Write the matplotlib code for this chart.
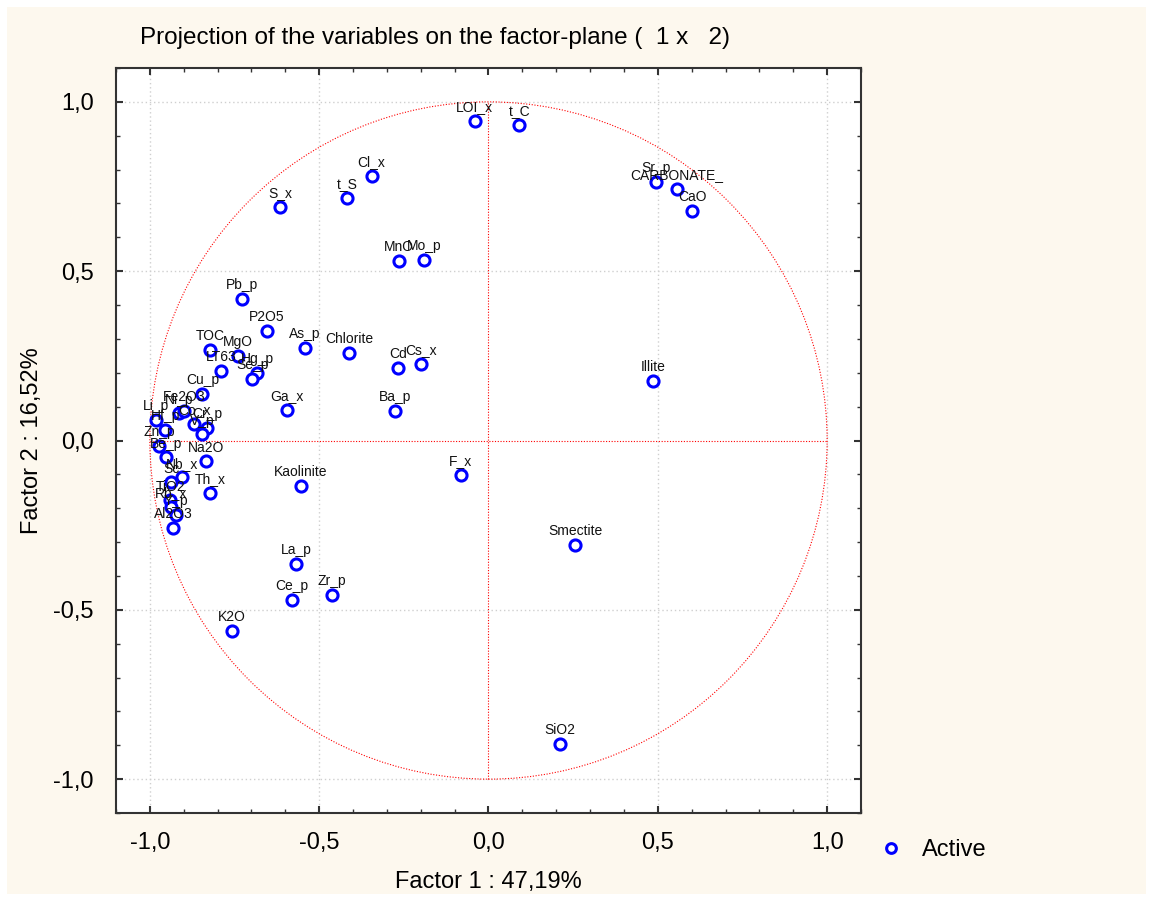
import numpy as np
import matplotlib
matplotlib.use("Agg")
import matplotlib.pyplot as plt
from matplotlib.patches import Rectangle, Circle
from matplotlib.lines import Line2D
from matplotlib.ticker import MultipleLocator, FuncFormatter

# variable loadings on factor 1 and factor 2
names = ["LOI_x", "t_C", "Sr_p", "CARBONATE_", "CaO", "Cl_x", "t_S", "S_x",
         "MnO", "Mo_p", "Pb_p", "P2O5", "As_p", "Chlorite", "Cd", "Cs_x",
         "Illite", "Ba_p", "Ga_x", "F_x", "Kaolinite", "Smectite", "La_p",
         "Zr_p", "Ce_p", "K2O", "SiO2", "TOC", "MgO", "LT63", "Hg_p", "Se_p",
         "Cu_p", "Li_p", "Hf_p", "Zn_p", "Be_p", "Ni_p", "Fe2O3", "Co_x",
         "Cr_p", "V_p", "Na2O", "Nb_x", "Sc", "Th_x", "TiO2", "Rb_x", "Y_p",
         "Al2O3"]
f1 = [-0.041, 0.091, 0.495, 0.557, 0.601, -0.345, -0.418, -0.616,
      -0.265, -0.189, -0.728, -0.654, -0.542, -0.412, -0.268, -0.200,
      0.486, -0.277, -0.595, -0.082, -0.554, 0.256, -0.568,
      -0.462, -0.580, -0.757, 0.212, -0.822, -0.739, -0.789, -0.683, -0.698,
      -0.845, -0.981, -0.954, -0.972, -0.951, -0.913, -0.898, -0.869,
      -0.831, -0.845, -0.834, -0.904, -0.937, -0.822, -0.940, -0.937, -0.922,
      -0.931]
f2 = [0.943, 0.931, 0.763, 0.742, 0.677, 0.781, 0.716, 0.689,
      0.530, 0.533, 0.418, 0.324, 0.274, 0.259, 0.215, 0.227,
      0.177, 0.088, 0.091, -0.103, -0.133, -0.309, -0.365,
      -0.457, -0.471, -0.563, -0.895, 0.268, 0.250, 0.206, 0.200, 0.183,
      0.138, 0.062, 0.032, -0.015, -0.050, 0.080, 0.088, 0.050,
      0.038, 0.018, -0.062, -0.109, -0.124, -0.156, -0.177, -0.197, -0.221,
      -0.259]

plt.rcParams["font.family"] = ["Liberation Sans", "DejaVu Sans"]

fig = plt.figure(figsize=(11.52, 8.99), dpi=100)
fig.patch.set_facecolor("white")
fig.patches.append(Rectangle((7 / 1152, 5 / 899), 1 - 13 / 1152, 1 - 12 / 899,
                             transform=fig.transFigure, facecolor="#fdf8ee",
                             edgecolor="none", zorder=-10))

ax = fig.add_axes([116 / 1152, 1 - 813 / 899, 745 / 1152, 745 / 899])
ax.set_xlim(-1.1, 1.1)
ax.set_ylim(-1.1, 1.1)

# grid at 0.5 steps
for v in [-1.0, -0.5, 0.5, 1.0]:
    ax.axvline(v, color="#cfcfcf", lw=1, ls=(0, (1, 2)), zorder=0)
    ax.axhline(v, color="#cfcfcf", lw=1, ls=(0, (1, 2)), zorder=0)

# unit circle and axes through the origin
ax.add_patch(Circle((0, 0), 1.0, fill=False, edgecolor="red", lw=0.8,
                    ls=(0, (1, 1.5)), zorder=1))
ax.plot([-1, 1], [0, 0], color="red", lw=0.8, ls=(0, (1, 1.5)), zorder=1)
ax.plot([0, 0], [-1, 1], color="red", lw=0.8, ls=(0, (1, 1.5)), zorder=1)

ax.plot(f1, f2, ls="none", marker="o", ms=8, mfc="white", mec="#0000ff",
        mew=2.2, zorder=3)
for n, x, y in zip(names, f1, f2):
    ax.annotate(n, (x, y), xytext=(0, 10), textcoords="offset points",
                ha="center", va="center", fontsize=10, color="#111111",
                zorder=4)

fmt = FuncFormatter(lambda v, p: ("%.1f" % v).replace(".", ","))
ax.xaxis.set_major_locator(MultipleLocator(0.5))
ax.yaxis.set_major_locator(MultipleLocator(0.5))
ax.xaxis.set_minor_locator(MultipleLocator(0.1))
ax.yaxis.set_minor_locator(MultipleLocator(0.1))
ax.xaxis.set_major_formatter(fmt)
ax.yaxis.set_major_formatter(fmt)
ax.tick_params(which="both", direction="in", top=True, right=True,
               colors="#333333", labelcolor="black")
ax.tick_params(which="major", length=5, width=1.5, labelsize=17)
ax.tick_params(which="minor", length=3, width=1)
ax.tick_params(axis="x", which="major", pad=14)
ax.tick_params(axis="y", which="major", pad=16)
for s in ax.spines.values():
    s.set_color("#333333")
    s.set_linewidth(1.5)

ax.set_xlabel("Factor 1 : 47,19%", fontsize=17, labelpad=12)
ax.set_ylabel("Factor 2 : 16,52%", fontsize=17)
ax.yaxis.set_label_coords(-0.098, 0.5)

fig.text(140 / 1152, 1 - 38 / 899,
         "Projection of the variables on the factor-plane (  1 x   2)",
         ha="left", va="center", fontsize=17.5,
         family=["Liberation Sans Narrow", "Liberation Sans", "DejaVu Sans"])

h = Line2D([], [], ls="none", marker="o", ms=7, mfc="white", mec="#0000ff",
           mew=2.2)
fig.legend([h], ["Active"], loc="center left", frameon=False, fontsize=17,
           bbox_to_anchor=(858 / 1152, 1 - 850 / 899), handlelength=1.0,
           handletextpad=0.8)

fig.savefig("out.png", dpi=100, facecolor=fig.get_facecolor())
